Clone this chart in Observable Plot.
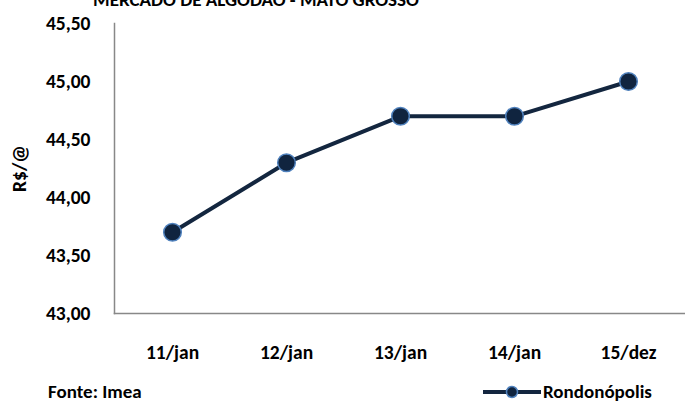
<!DOCTYPE html>
<html><head><meta charset="utf-8">
<script src="https://cdn.jsdelivr.net/npm/d3@7"></script>
<script src="https://cdn.jsdelivr.net/npm/@observablehq/plot@0.6"></script>
<style>
body{margin:0;background:#fff;font-family:Carlito, Lato, "Open Sans", sans-serif;font-weight:700;color:#000;}
#wrap{position:relative;width:685px;height:402px;overflow:hidden;}
#chart{position:absolute;left:0;top:0;}
#title{position:absolute;left:0;width:512px;text-align:center;top:-10px;font-size:19px;line-height:19px;white-space:nowrap;}
#fonte{position:absolute;left:48px;top:381px;font-size:19px;line-height:22px;}
#legend{position:absolute;left:483px;top:381px;font-size:19px;line-height:22px;display:flex;align-items:center;}
#legend svg{margin-right:2px;}
</style>
</head><body>
<div id="wrap">
  <div id="chart"></div>
  <div id="title">MERCADO DE ALGODÃO - MATO GROSSO</div>
  <div id="fonte">Fonte: Imea</div>
  <div id="legend"></div>
</div>
<script>
const dates = ["11/jan", "12/jan", "13/jan", "14/jan", "15/dez"];
const rondonopolis = [43.70, 44.30, 44.70, 44.70, 45.00];
const yTicks = [43.0, 43.5, 44.0, 44.5, 45.0, 45.5];
const seriesName = "Rondonópolis";

const lineColor = "#13263f";
const dotFill = "#10243f";
const dotStroke = "#4f81bd";

const data = dates.map((d, i) => ({date: d, value: rondonopolis[i]}));

const chart = Plot.plot({
  width: 685,
  height: 372,
  marginTop: 23,
  marginBottom: 59,
  marginLeft: 114,
  marginRight: 0,
  style: {fontFamily: "Carlito, Lato, 'Open Sans', sans-serif", fontSize: "19.5px", fontWeight: "bold", color: "#000", background: "#fff"},
  x: {type: "point", domain: dates, padding: 0.5},
  y: {domain: [43, 45.5]},
  marks: [
    Plot.axisX({tickSize: 0, tickPadding: 32, label: null}),
    Plot.axisY({ticks: yTicks, tickSize: 0, tickPadding: 24, tickFormat: d => d.toFixed(2).replace(".", ","),
      label: "R$/@", labelAnchor: "center", labelArrow: "none", labelOffset: 102}),
    Plot.frame({anchor: "left", stroke: "#888", strokeWidth: 1.5}),
    Plot.frame({anchor: "bottom", stroke: "#888", strokeWidth: 1.5}),
    Plot.line(data, {x: "date", y: "value", stroke: lineColor, strokeWidth: 4}),
    Plot.dot(data, {x: "date", y: "value", r: 8.8, fill: dotFill, stroke: dotStroke, strokeWidth: 1.5})
  ]
});
document.getElementById("chart").appendChild(chart);

const lg = document.getElementById("legend");
const ns = "http://www.w3.org/2000/svg";
const sw = document.createElementNS(ns, "svg");
sw.setAttribute("width", 58); sw.setAttribute("height", 22);
const ln = document.createElementNS(ns, "line");
ln.setAttribute("x1", 0); ln.setAttribute("x2", 58); ln.setAttribute("y1", 11); ln.setAttribute("y2", 11);
ln.setAttribute("stroke", lineColor); ln.setAttribute("stroke-width", 4);
const c = document.createElementNS(ns, "circle");
c.setAttribute("cx", 29); c.setAttribute("cy", 11); c.setAttribute("r", 5.5);
c.setAttribute("fill", dotFill); c.setAttribute("stroke", dotStroke); c.setAttribute("stroke-width", 1.5);
sw.appendChild(ln); sw.appendChild(c);
lg.appendChild(sw);
const t = document.createElement("span"); t.textContent = seriesName; lg.appendChild(t);
</script>
</body></html>
